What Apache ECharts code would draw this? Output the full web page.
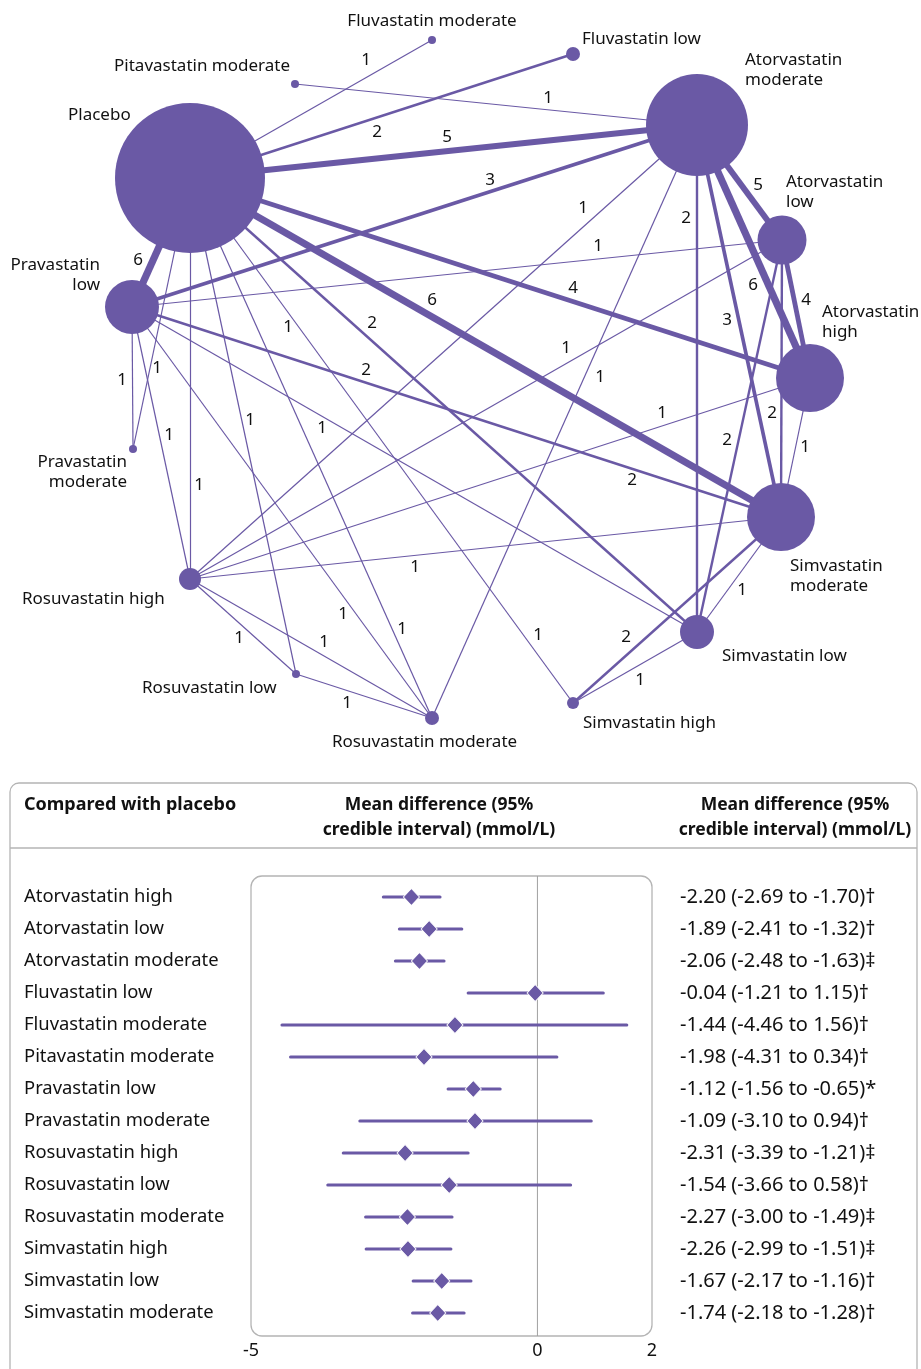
<!DOCTYPE html>
<html><head><meta charset="utf-8">
<script src="https://cdn.jsdelivr.net/npm/echarts@6/dist/echarts.min.js"></script>
<style>html,body{margin:0;padding:0;background:#fff}#c{width:921px;height:1369px}</style>
</head><body><div id="c"></div>
<script>
// ================= DATA =================
const treatments = ['Placebo','Pravastatin low','Pravastatin moderate','Pitavastatin moderate','Fluvastatin moderate','Fluvastatin low','Atorvastatin moderate','Atorvastatin low','Atorvastatin high','Simvastatin moderate','Simvastatin low','Simvastatin high','Rosuvastatin moderate','Rosuvastatin low','Rosuvastatin high'];
// node size (symbol diameter)
const nodeSize = [150, 54, 8, 8, 8, 14, 102, 49, 68, 68, 34, 12, 14, 8, 22];
// direct comparisons: [treatment A, treatment B, number of trials]
const comparisons = [
 ['Placebo','Fluvastatin moderate',1],
 ['Placebo','Fluvastatin low',2],
 ['Placebo','Atorvastatin moderate',5],
 ['Placebo','Atorvastatin high',4],
 ['Placebo','Simvastatin moderate',6],
 ['Placebo','Pravastatin low',6],
 ['Placebo','Pravastatin moderate',1],
 ['Placebo','Rosuvastatin high',1],
 ['Placebo','Rosuvastatin low',1],
 ['Placebo','Rosuvastatin moderate',1],
 ['Placebo','Simvastatin high',1],
 ['Placebo','Simvastatin low',2],
 ['Pitavastatin moderate','Atorvastatin moderate',1],
 ['Pravastatin low','Atorvastatin moderate',3],
 ['Pravastatin low','Atorvastatin low',1],
 ['Pravastatin low','Simvastatin moderate',2],
 ['Pravastatin low','Simvastatin low',1],
 ['Pravastatin low','Pravastatin moderate',1],
 ['Pravastatin low','Rosuvastatin high',1],
 ['Pravastatin low','Rosuvastatin moderate',1],
 ['Atorvastatin moderate','Atorvastatin low',5],
 ['Atorvastatin moderate','Atorvastatin high',6],
 ['Atorvastatin moderate','Simvastatin moderate',3],
 ['Atorvastatin moderate','Simvastatin low',2],
 ['Atorvastatin moderate','Rosuvastatin high',1],
 ['Atorvastatin moderate','Rosuvastatin moderate',1],
 ['Atorvastatin low','Atorvastatin high',4],
 ['Atorvastatin low','Simvastatin moderate',2],
 ['Atorvastatin low','Simvastatin low',2],
 ['Atorvastatin low','Rosuvastatin high',1],
 ['Atorvastatin high','Simvastatin moderate',1],
 ['Atorvastatin high','Rosuvastatin high',1],
 ['Simvastatin moderate','Simvastatin low',1],
 ['Simvastatin moderate','Simvastatin high',2],
 ['Simvastatin moderate','Rosuvastatin high',1],
 ['Simvastatin low','Simvastatin high',1],
 ['Rosuvastatin high','Rosuvastatin low',1],
 ['Rosuvastatin high','Rosuvastatin moderate',1],
 ['Rosuvastatin low','Rosuvastatin moderate',1]
];

const forestCategories = ['Atorvastatin high','Atorvastatin low','Atorvastatin moderate','Fluvastatin low','Fluvastatin moderate','Pitavastatin moderate','Pravastatin low','Pravastatin moderate','Rosuvastatin high','Rosuvastatin low','Rosuvastatin moderate','Simvastatin high','Simvastatin low','Simvastatin moderate'];
const forestMean = [-2.20,-1.89,-2.06,-0.04,-1.44,-1.98,-1.12,-1.09,-2.31,-1.54,-2.27,-2.26,-1.67,-1.74];
const forestLow  = [-2.69,-2.41,-2.48,-1.21,-4.46,-4.31,-1.56,-3.10,-3.39,-3.66,-3.00,-2.99,-2.17,-2.18];
const forestHigh = [-1.70,-1.32,-1.63,1.15,1.56,0.34,-0.65,0.94,-1.21,0.58,-1.49,-1.51,-1.16,-1.28];
const forestMark = ['†','†','‡','†','†','†','*','†','‡','†','‡','‡','†','†'];
const forestTicks = [-5, 0, 2];
const headerLeft = 'Compared with placebo';
const headerMid = 'Mean difference (95%\ncredible interval) (mmol/L)';
const headerRight = 'Mean difference (95%\ncredible interval) (mmol/L)';

// ================= LAYOUT =================
const PURPLE = '#6a59a5';
const TEXT = '#111111';
const FONT = '"Noto Sans", "Open Sans", sans-serif';
// network node positions (pixel space of the network panel)
const nodeXY = [[190,178],[132,307],[133,449],[295,84],[432,40],[573,54],[697,125],[782,240],[810,378],[781,517],[697,632],[573,703],[432,718],[296,674],[190,579]];
// node label anchors: [x, y, align, twoLines]
const nodeLabelLayout = [
 [68,115,'left',false],[100,275,'right',true],[127,472,'right',true],[290,66,'right',false],
 [432,21,'center',false],[582,39,'left',false],[745,70,'left',true],[786,192,'left',true],
 [822,322,'left',true],[790,576,'left',true],[722,656,'left',false],[583,723,'left',false],
 [332,742,'left',false],[142,688,'left',false],[22,599,'left',false]
];
// edge number label anchors: [comparison index, x, y]
const edgeLabelLayout = [
 [0,366,60],[1,377,132],[2,447,137],[3,573,288],[4,432,300],[5,138,260],[6,157,368],[7,199,485],
 [8,250,420],[9,402,629],[10,288,327],[10,538,635],[11,372,323],[12,548,98],[13,490,180],[14,598,246],
 [15,366,370],[15,632,480],[16,322,428],[17,122,380],[18,169,435],[19,343,614],[20,758,185],[21,753,285],
 [22,727,320],[23,686,218],[24,583,208],[25,600,377],[26,806,300],[27,772,413],[28,727,440],[29,566,348],
 [30,805,447],[31,662,413],[32,742,590],[33,626,637],[34,415,567],[35,640,680],[36,239,638],[37,324,642],[38,347,703]
];

// ================= BUILD =================
const graphNodes = treatments.map((n,i)=>({name:n, value:nodeXY[i], symbolSize:nodeSize[i]}));
const graphLinks = comparisons.map(c=>({source:c[0], target:c[1], value:c[2], lineStyle:{width:c[2]*1.2}}));
const edgeLabels = edgeLabelLayout.map(l=>({value:[l[1],l[2]], label:{formatter:String(comparisons[l[0]][2])}}));
const nodeLabels = treatments.map((n,i)=>{
  const L = nodeLabelLayout[i];
  return {value:[L[0],L[1]], label:{formatter: L[3] ? n.replace(' ','\n') : n, align:L[2]}};
});
const ciText = forestCategories.map((c,i)=>`${forestMean[i].toFixed(2)} (${forestLow[i].toFixed(2)} to ${forestHigh[i].toFixed(2)})${forestMark[i]}`);

const chart = echarts.init(document.getElementById('c'), null, {renderer:'canvas'});
chart.setOption({
  animation:false,
  backgroundColor:'#fff',
  textStyle:{fontFamily:FONT},
  grid:[
    {left:0, top:0, width:921, height:760},
    {left:251, top:881, width:401, height:448},
    {left:251, top:876, width:401, height:460}
  ],
  xAxis:[
    {gridIndex:0, type:'value', min:0, max:921, show:false},
    {gridIndex:1, type:'value', min:-5, max:2, interval:1,
      axisLine:{show:false}, axisTick:{show:false}, splitLine:{show:false},
      axisLabel:{margin:13, fontSize:18, color:TEXT, fontFamily:FONT,
        formatter:v=> forestTicks.includes(v) ? String(v) : ''}},
    {gridIndex:2, type:'value', min:-5, max:2, show:false}
  ],
  yAxis:[
    {gridIndex:0, type:'value', min:0, max:760, inverse:true, show:false},
    {gridIndex:1, type:'category', data:forestCategories, inverse:true,
      axisLine:{show:false}, axisTick:{show:false},
      axisLabel:{align:'left', margin:227, fontSize:18.4, color:TEXT, fontFamily:FONT}},
    {gridIndex:1, type:'category', data:ciText, inverse:true, position:'right',
      axisLine:{show:false}, axisTick:{show:false},
      axisLabel:{align:'left', margin:28, fontSize:20, color:TEXT, fontFamily:FONT}},
    {gridIndex:2, type:'value', min:0, max:1, show:false}
  ],
  graphic:[
    {type:'rect', shape:{x:10, y:783, width:907, height:640, r:9}, style:{fill:'none', stroke:'#b4b4b4', lineWidth:1.3}, z:0},
    {type:'line', shape:{x1:10, y1:848, x2:917, y2:848}, style:{stroke:'#b4b4b4', lineWidth:1.3}},
    {type:'rect', shape:{x:251, y:876, width:401, height:460, r:11}, style:{fill:'none', stroke:'#b4b4b4', lineWidth:1.3}},
    {type:'text', x:24, y:805, style:{text:headerLeft, font:'bold 18px '+FONT, fill:TEXT, verticalAlign:'middle'}},
    {type:'text', x:439, y:818, style:{text:headerMid, font:'bold 17.5px '+FONT, fill:TEXT, align:'center', verticalAlign:'middle', lineHeight:25}},
    {type:'text', x:795, y:818, style:{text:headerRight, font:'bold 17.5px '+FONT, fill:TEXT, align:'center', verticalAlign:'middle', lineHeight:25}}
  ],
  series:[
    {type:'graph', layout:'none', coordinateSystem:'cartesian2d', xAxisIndex:0, yAxisIndex:0,
      data:graphNodes, links:graphLinks, silent:true,
      itemStyle:{color:PURPLE, opacity:1},
      lineStyle:{color:PURPLE, opacity:1, curveness:0},
      label:{show:false}, emphasis:{disabled:true}, z:2},
    {type:'scatter', xAxisIndex:0, yAxisIndex:0, data:edgeLabels, symbolSize:0, silent:true,
      itemStyle:{opacity:1},
      label:{show:true, position:'inside', fontSize:17, color:TEXT, fontFamily:FONT}, z:5},
    {type:'scatter', xAxisIndex:0, yAxisIndex:0, data:nodeLabels, symbolSize:0, silent:true,
      itemStyle:{opacity:1},
      label:{show:true, position:'inside', verticalAlign:'middle', fontSize:17, lineHeight:20, color:TEXT, fontFamily:FONT}, z:5},
    {type:'line', xAxisIndex:2, yAxisIndex:3, data:[[0,0],[0,1]], symbol:'none', silent:true,
      lineStyle:{color:'#a0a0a0', width:1}, z:1},
    {type:'custom', xAxisIndex:1, yAxisIndex:1, silent:true, z:3,
      data:forestCategories.map((c,i)=>[i, forestLow[i], forestHigh[i]]),
      encode:{y:0, x:[1,2]},
      renderItem:(params, api)=>{
        const a = api.coord([api.value(1), api.value(0)]);
        const b = api.coord([api.value(2), api.value(0)]);
        return {type:'line', shape:{x1:a[0], y1:a[1], x2:b[0], y2:b[1]}, style:{stroke:PURPLE, lineWidth:3, lineCap:'round'}};
      }},
    {type:'scatter', xAxisIndex:1, yAxisIndex:1, silent:true, z:4,
      data:forestMean.map((m,i)=>[m,i]), symbol:'diamond', symbolSize:[16,17],
      itemStyle:{color:PURPLE, opacity:1, borderColor:'#fff', borderWidth:1}}
  ]
});
</script></body></html>
